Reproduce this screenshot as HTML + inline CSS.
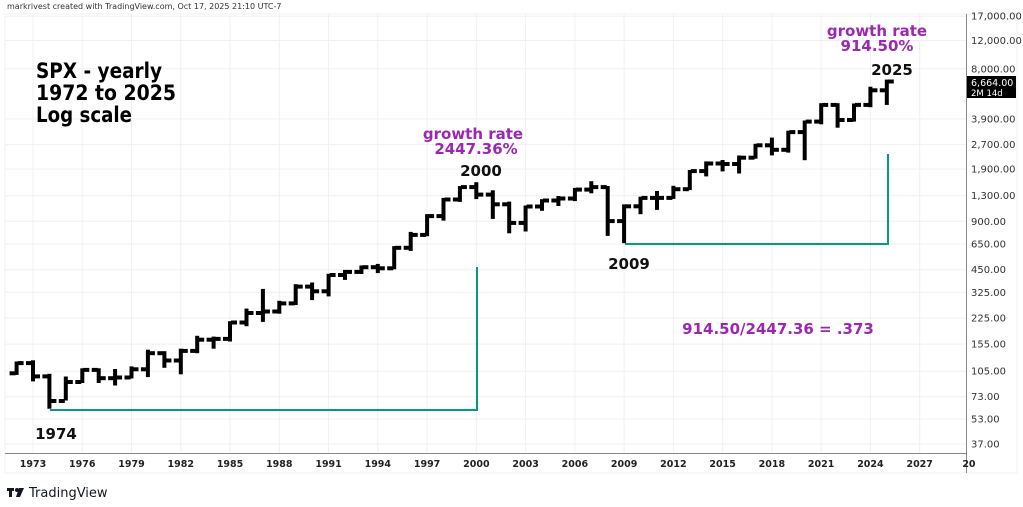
<!DOCTYPE html>
<html><head><meta charset="utf-8"><style>
html,body{margin:0;padding:0;background:#fff;width:1023px;height:507px;overflow:hidden}
svg{display:block}
text{font-family:"DejaVu Sans","Liberation Sans",sans-serif}
.b{font-family:"DejaVu Sans Condensed","DejaVu Sans",sans-serif;font-weight:bold}
</style></head><body>
<svg id="s" width="1023" height="507" xmlns="http://www.w3.org/2000/svg">
<rect width="1023" height="507" fill="#fff"/>
<g id="grid" stroke="#eef0f3" stroke-width="1"></g>
<rect x="5" y="14" width="1012" height="459" fill="none" stroke="#eef0f3"/>
<line x1="966.5" y1="14" x2="966.5" y2="473" stroke="#888" stroke-width="1"/>
<line x1="5" y1="453.5" x2="966" y2="453.5" stroke="#888" stroke-width="1"/>
<g id="ylab" font-size="10" fill="#333"></g>
<g id="xlab" font-size="9.5" font-weight="bold" fill="#222" text-anchor="middle"></g>
<g stroke="#089981" stroke-width="2" fill="none">
<polyline points="50,410 477,410 477,267"/>
<polyline points="625,244 888,244 888,154"/>
</g>
<g id="bars" fill="#000"></g>
<text x="7" y="9" font-size="8" fill="#333">markrivest created with TradingView.com, Oct 17, 2025 21:10 UTC-7</text>
<g font-size="21" fill="#000" class="b">
<text x="36" y="78" textLength="126" lengthAdjust="spacingAndGlyphs">SPX - yearly</text>
<text x="36" y="100" textLength="140" lengthAdjust="spacingAndGlyphs">1972 to 2025</text>
<text x="36" y="122" textLength="96" lengthAdjust="spacingAndGlyphs">Log scale</text>
</g>
<g font-size="15" fill="#9c27b0" text-anchor="middle" class="b">
<text x="473" y="139">growth rate</text>
<text x="476" y="154">2447.36%</text>
<text x="877" y="36">growth rate</text>
<text x="877" y="51">914.50%</text>
<text x="778" y="334">914.50/2447.36 = .373</text>
</g>
<g font-size="15" fill="#111" text-anchor="middle" class="b">
<text x="481" y="176">2000</text>
<text x="629" y="269">2009</text>
<text x="56" y="439">1974</text>
<text x="892" y="75">2025</text>
</g>
<rect x="967" y="76" width="49" height="22" fill="#000"/>
<text x="971" y="86" font-size="9.5" fill="#fff">6,664.00</text>
<text x="971" y="96" font-size="8.5" fill="#fff">2M 14d</text>
<g fill="#131722">
<rect x="7" y="488" width="7" height="3"/><rect x="9" y="488" width="3" height="9"/>
<circle cx="17" cy="490" r="2"/><polygon points="19,488 24,488 20,497 16,497"/>
<text x="29" y="497" font-size="13" font-family="Liberation Sans,sans-serif">TradingView</text>
</g>
</svg>
<script>
var NS="http://www.w3.org/2000/svg";
function el(p,t,a,txt){var e=document.createElementNS(NS,t);for(var k in a)e.setAttribute(k,a[k]);if(txt)e.textContent=txt;document.getElementById(p).appendChild(e);}
function Y(v){return 244-69.8*Math.log(v/650);}
function X(yr){return 33+16.42*(yr-1973);}
var yl=[17000,12000,8000,3900,2700,1900,1300,900,650,450,325,225,155,105,73,53,37];
yl.forEach(function(v){var y=Y(v);el("grid","line",{x1:5,x2:966,y1:y.toFixed(1),y2:y.toFixed(1)});
el("ylab","text",{x:971,y:(y+3.5).toFixed(1)},v.toLocaleString("en-US")+".00");});
for(var yr=1973;yr<=2030;yr+=3){var x=X(yr);if(x<966)el("grid","line",{x1:x,x2:x,y1:14,y2:453});
el("xlab","text",{x:x,y:467},yr<2030?String(yr):"20");}
var d=[[1972,102,119,101,118],[1973,118,121,92,97.5],[1974,97.5,99.8,62.3,68.6],[1975,68.6,96,70,90],[1976,90,108,90,107],[1977,107,107.9,90,95],[1978,95,106.9,86.9,96],[1979,96,111,96,108],[1980,108,141,98,136],[1981,136,138,112,122.5],[1982,122.5,143,102,140.6],[1983,140.6,172,138,164.9],[1984,165,170,147,167],[1985,167,212,163,211],[1986,211,254,203,242],[1987,242,337,216,247],[1988,247,284,243,277.7],[1989,277.7,360,275,353],[1990,353,369,295,330],[1991,330,418,311,417],[1992,417,442,394,435.7],[1993,435.7,471,429,466],[1994,466,482,435,459],[1995,459,622,459,615.9],[1996,616,762,597,740.7],[1997,740,983,737,970],[1998,970,1241,923,1229],[1999,1229,1469,1205,1469],[2000,1469,1553,1254,1320],[2001,1320,1383,945,1148],[2002,1148,1176,768,880],[2003,880,1112,789,1112],[2004,1112,1217,1060,1212],[2005,1212,1275,1137,1248],[2006,1248,1431,1219,1418],[2007,1418,1576,1363,1468],[2008,1468,1471,741,903],[2009,903,1130,667,1115],[2010,1115,1262,1010,1258],[2011,1258,1370,1075,1258],[2012,1258,1475,1258,1426],[2013,1426,1849,1426,1848],[2014,1848,2093,1737,2059],[2015,2059,2135,1867,2044],[2016,2044,2277,1810,2239],[2017,2239,2694,2238,2674],[2018,2674,2941,2346,2507],[2019,2507,3248,2444,3231],[2020,3231,3760,2192,3756],[2021,3756,4819,3663,4766],[2022,4766,4819,3492,3840],[2023,3840,4794,3808,4770],[2024,4770,6100,4683,5882],[2025,5882,6750,4835,6664]];
d.forEach(function(r){var x=X(r[0]);var h=Y(r[2]),l=Y(r[3]),o=Y(r[1]),c=Y(r[4]);
el("bars","rect",{x:(x-2).toFixed(1),y:(h-1).toFixed(1),width:4,height:Math.max(4,l-h+2).toFixed(1)});
el("bars","rect",{x:(x-7).toFixed(1),y:(o-2).toFixed(1),width:6,height:4});
el("bars","rect",{x:(x+1).toFixed(1),y:(c-2).toFixed(1),width:6,height:4});});
</script>
</body></html>
